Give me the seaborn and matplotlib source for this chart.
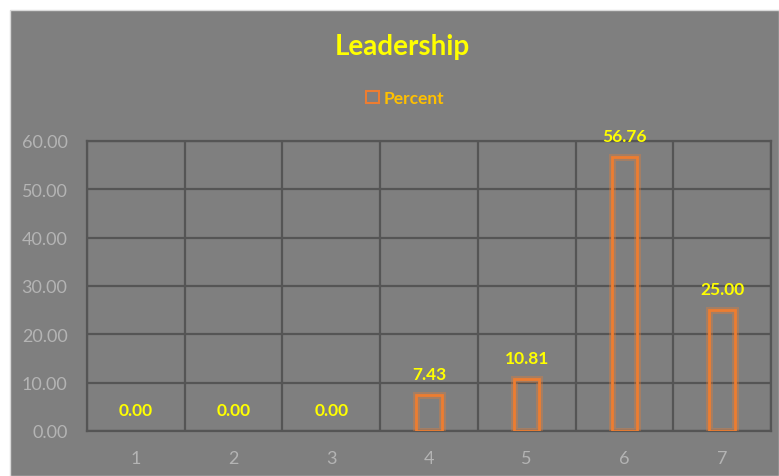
import matplotlib
matplotlib.use("Agg")
import matplotlib.pyplot as plt
import matplotlib.patheffects as pe
from matplotlib.patches import Rectangle
import seaborn as sns
import pandas as pd

categories = ["1", "2", "3", "4", "5", "6", "7"]
percent = [0.00, 0.00, 0.00, 7.43, 10.81, 56.76, 25.00]
yticks = [0, 10, 20, 30, 40, 50, 60]

W, H = 779, 477
BG = "#7f7f7f"
GRID = "#555555"
ORANGE = "#ed7d31"
YELLOW = "#ffff00"
TICK = "#b4b4b4"

sns.set_theme(style="white")
plt.rcParams["font.family"] = ["Lato", "DejaVu Sans"]

fig = plt.figure(figsize=(W / 100, H / 100), dpi=100, facecolor="white")
bgrect = Rectangle((10 / W, 0), 1 - 10 / W, 1 - 11 / H, transform=fig.transFigure,
                   facecolor=BG, edgecolor="#d9d9d9", linewidth=1.0, zorder=-10)
fig.patches.append(bgrect)

ax = fig.add_axes([87 / W, (H - 432) / H, (771 - 87) / W, (432 - 142) / H])
ax.set_zorder(5)
ax.set_facecolor(BG)

df = pd.DataFrame({"cat": categories, "val": percent})
sns.barplot(data=df, x="cat", y="val", ax=ax, width=0.26, fill=False,
            edgecolor=ORANGE, linewidth=2.0, errorbar=None, zorder=3)
for p in ax.patches:
    if p.get_height() == 0:
        p.set_visible(False)
    p.set_path_effects([pe.Stroke(linewidth=5, foreground=ORANGE, alpha=0.35), pe.Normal()])

ax.set_ylim(0, 60)
ax.set_xlim(-0.5, len(categories) - 0.5)
ax.set_yticks(yticks)
ax.set_yticklabels([f"{v:.2f}" for v in yticks])
ax.set_xticks(range(len(categories)))
ax.set_xticklabels(categories)
ax.set_xticks([i + 0.5 for i in range(-1, len(categories))], minor=True)
ax.tick_params(axis="both", which="both", length=0, colors=TICK, labelsize=13)
ax.tick_params(axis="x", pad=14)
ax.tick_params(axis="y", pad=14)
ax.grid(True, axis="y", which="major", color=GRID, linewidth=1.6, zorder=1)
ax.grid(True, axis="x", which="minor", color=GRID, linewidth=1.6, zorder=1)
ax.grid(False, axis="x", which="major")
for s in ax.spines.values():
    s.set_color(GRID)
    s.set_linewidth(1.6)
ax.set_xlabel("")
ax.set_ylabel("")

for i, v in enumerate(percent):
    ax.annotate(f"{v:.2f}", (i, v), xytext=(0, 15), textcoords="offset points",
                ha="center", va="center", color=YELLOW, fontsize=12.5, fontweight="bold", zorder=5)

fig.text(402 / W, 1 - 47 / H, "Leadership", ha="center", va="center",
         color=YELLOW, fontsize=20, fontweight="bold")

handle = Rectangle((0, 0), 1, 1, facecolor="none", edgecolor=ORANGE, linewidth=1.5)
leg = fig.legend([handle], ["Percent"], loc="center", bbox_to_anchor=(405 / W, 1 - 99 / H),
                 frameon=False, fontsize=12.5, handlelength=0.75, handleheight=0.75,
                 handletextpad=0.3, borderpad=0)
for t in leg.get_texts():
    t.set_color("#ffc000")
    t.set_fontweight("bold")

fig.savefig("out.png", dpi=100, facecolor="white")
